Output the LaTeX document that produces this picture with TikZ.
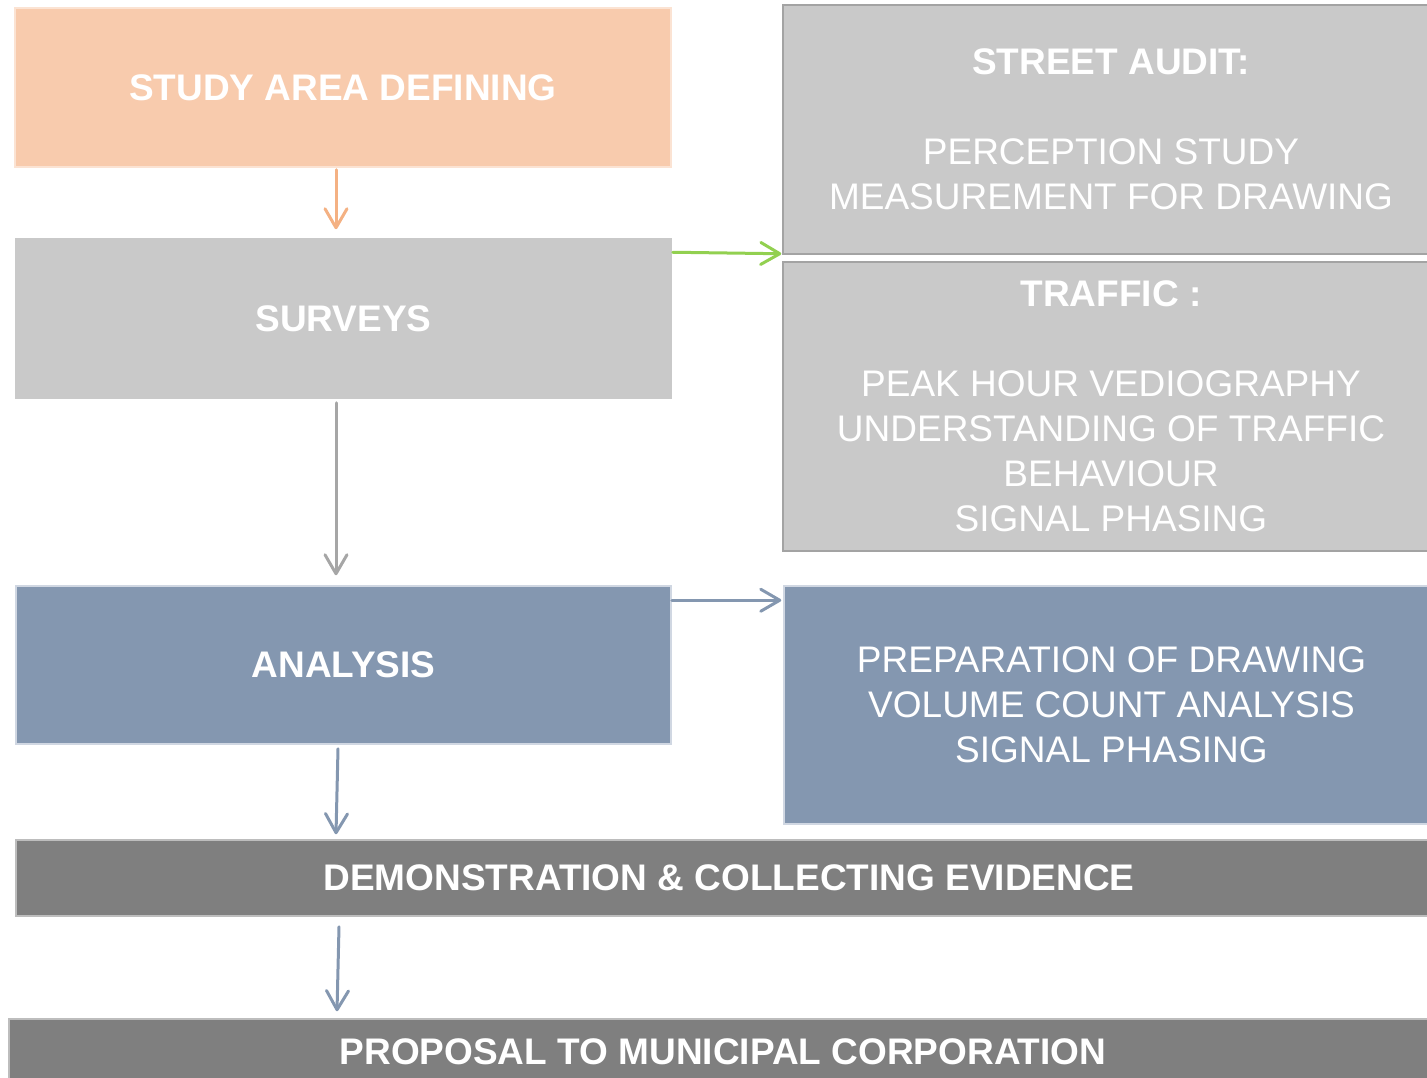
\documentclass[tikz,border=0pt]{standalone}
\usepackage{fontspec}
\setmainfont{Liberation Sans}
\usetikzlibrary{arrows.meta,calc}

\definecolor{peach}{HTML}{F8CBAD}
\definecolor{peachline}{HTML}{FBE3D3}
\definecolor{lightgray}{HTML}{C9C9C9}
\definecolor{grayline}{HTML}{A3A3A3}
\definecolor{slate}{HTML}{8497B0}
\definecolor{slateline}{HTML}{D0D7E2}
\definecolor{darkgray}{HTML}{7F7F7F}
\definecolor{darkline}{HTML}{BDBDBD}
\definecolor{orangearrow}{HTML}{F4B183}
\definecolor{greenarrow}{HTML}{92D050}
\definecolor{grayarrow}{HTML}{A6A6A6}

\begin{document}
\begin{tikzpicture}[x=1pt,y=-1pt,
  box/.style={rectangle, inner sep=0pt, text=white, align=center,
    line width=1.5pt, font=\fontsize{37}{45}\selectfont},
  arr/.style={line width=3pt, line cap=round,
    -{Straight Barb[length=19pt,width=22pt,line cap=round,round]}}]
\useasboundingbox (0,0) rectangle (1427,1078);

\begin{scope}
\clip (0,0) rectangle (1427,1078);
% left column
\node[box, fill=peach, draw=peachline, minimum width=656pt, minimum height=159pt]
  (study) at (343,87.5) {\bfseries STUDY AREA DEFINING};
\node[box, fill=lightgray, minimum width=657pt, minimum height=161pt]
  (surv) at (343.5,318.5) {\bfseries SURVEYS};
\node[box, fill=slate, draw=slateline, minimum width=655pt, minimum height=158pt]
  (ana) at (343.5,665) {\bfseries ANALYSIS};
% right column
\node[box, fill=lightgray, draw=grayline, minimum width=656pt, minimum height=249pt]
  (audit) at (1111,129.5) {\textbf{STREET AUDIT:}\\[45pt]PERCEPTION STUDY\\MEASUREMENT FOR DRAWING};
\node[box, fill=lightgray, draw=grayline, minimum width=656pt, minimum height=289pt]
  (traffic) at (1111,406.5) {\textbf{TRAFFIC :}\\[45pt]PEAK HOUR VEDIOGRAPHY\\UNDERSTANDING OF TRAFFIC\\BEHAVIOUR\\SIGNAL PHASING};
\node[box, fill=slate, draw=slateline, minimum width=655pt, minimum height=238pt]
  (prep) at (1111.5,705) {PREPARATION OF DRAWING\\VOLUME COUNT ANALYSIS\\SIGNAL PHASING};
% full-width bars
\node[box, fill=darkgray, draw=darkline, minimum width=1426pt, minimum height=76pt]
  (demo) at (729,878) {\bfseries DEMONSTRATION \& COLLECTING EVIDENCE};
\node[box, fill=darkgray, draw=darkline, minimum width=1428pt, minimum height=66pt]
  (prop) at (723,1052) {\bfseries PROPOSAL TO MUNICIPAL CORPORATION};
\end{scope}

% connectors
\draw[arr, orangearrow] ($(study.south)+(-7,2)$) -- ($(study.south |- surv.north)+(-7,-8)$);
\draw[arr, greenarrow] ($(surv.north east)+(0,15)$) -- ($(audit.south west)+(-1,-1)$);
\draw[arr, grayarrow] ($(surv.south)+(-7.5,3)$) -- ($(surv.south |- ana.north)+(-7.5,-10)$);
\draw[arr, slate] ($(ana.north east)+(0,15)$) -- ($(prep.north west)+(-2,15)$);
\draw[arr, slate] ($(ana.south)+(-5.5,4)$) -- ($(ana.south |- demo.north)+(-7.5,-5)$);
\draw[arr, slate] ($(ana.south |- demo.south)+(-4.5,10)$) -- ($(ana.south |- prop.north)+(-6.5,-7)$);
\end{tikzpicture}
\end{document}
